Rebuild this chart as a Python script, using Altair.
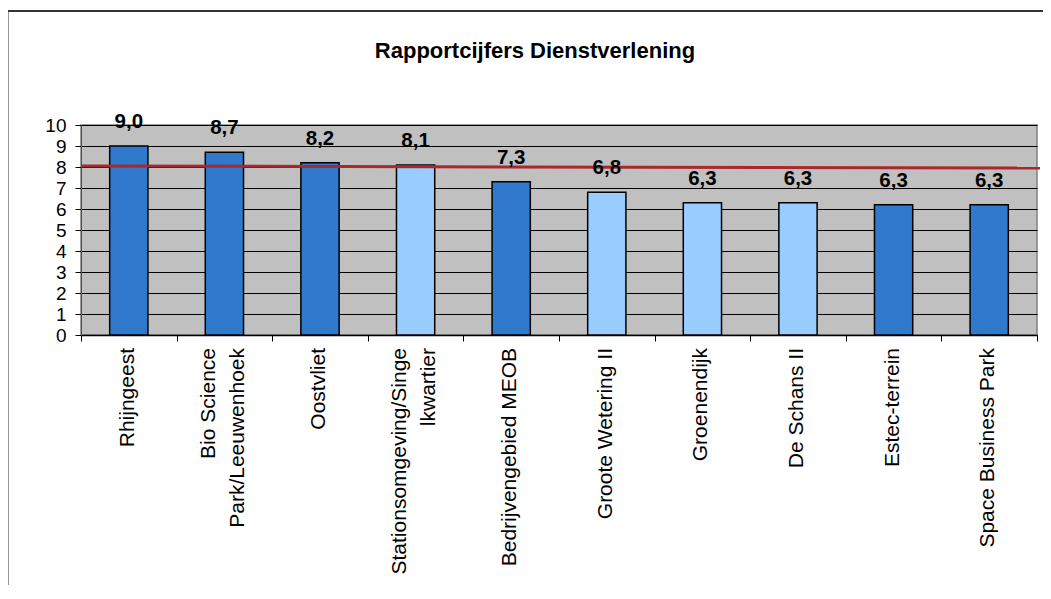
import altair as alt
import pandas as pd

# ---- data ----
categories = [
    "Rhijngeest",
    "Bio Science|Park/Leeuwenhoek",
    "Oostvliet",
    "Stationsomgeving/Singe|lkwartier",
    "Bedrijvengebied MEOB",
    "Groote Wetering II",
    "Groenendijk",
    "De Schans II",
    "Estec-terrein",
    "Space Business Park",
]
scores = [9.0, 8.7, 8.2, 8.1, 7.3, 6.8, 6.3, 6.3, 6.2, 6.2]
score_labels = ["9,0", "8,7", "8,2", "8,1", "7,3", "6,8", "6,3", "6,3", "6,3", "6,3"]
groups = ["dark", "dark", "dark", "light", "dark", "light", "light", "light", "dark", "dark"]
ref_start = [8.05]
ref_end = [7.95]
y_ticks = list(range(0, 11))
title_text = "Rapportcijfers Dienstverlening"

FONT = "Liberation Sans"
W, H = 956, 210
HALF_LH = 14.5

line1 = [c.split("|")[0] for c in categories]
line2 = [c.split("|")[1] if "|" in c else "" for c in categories]

df = pd.DataFrame({
    "cat": categories, "score": scores, "lab": score_labels, "grp": groups,
    "line1": line1, "line2": line2,
})
ref_df = pd.DataFrame({"y1": ref_start, "y2": ref_end})
title_df = pd.DataFrame({"t": [title_text]})

x_axis = alt.Axis(
    title=None,
    labels=False,
    tickBand="extent",
    tickSize=6,
    tickColor="black",
    domainColor="black",
    domainWidth=1.5,
    grid=False,
)
x_scale = alt.Scale(paddingInner=0, paddingOuter=0)

y_axis = alt.Axis(
    title=None,
    values=y_ticks,
    tickCount=12,
    grid=True,
    gridColor="black",
    gridWidth=1,
    gridOpacity=1,
    tickSize=6,
    tickColor="black",
    domainColor="#505050",
    labelFont=FONT,
    labelFontSize=19,
    labelColor="black",
    labelPadding=9,
    labelOverlap=False,
)
y_scale = alt.Scale(domain=[0, 10], nice=False)

x_enc = alt.X("cat:N", sort=categories, scale=x_scale, axis=x_axis)
y_enc = alt.Y("score:Q", scale=y_scale, axis=y_axis)

border = alt.Chart(title_df).mark_rect(
    fillOpacity=0, stroke="#333333", strokeWidth=2
).encode(
    x=alt.value(-73.5), x2=alt.value(1000), y=alt.value(-114), y2=alt.value(700)
)

bars = alt.Chart(df).mark_bar(
    width={"band": 0.4}, stroke="black", strokeWidth=1.5
).encode(
    x=x_enc,
    y=y_enc,
    color=alt.Color(
        "grp:N",
        scale=alt.Scale(domain=["dark", "light"], range=["#3179CC", "#99CCFF"]),
        legend=None,
    ),
)

labels = alt.Chart(df).mark_text(
    font=FONT, fontSize=20.5, fontWeight="bold", color="black",
    baseline="alphabetic", dy=-18,
).encode(
    x=x_enc,
    y=y_enc,
    text="lab:N",
)

ref_rule = alt.Chart(ref_df).mark_rule(color="#A8282C", strokeWidth=3).encode(
    x=alt.value(0), x2=alt.value(W + 3),
    y=alt.Y("y1:Q", scale=y_scale, axis=y_axis),
    y2="y2:Q",
)

# category labels, rotated, hanging below the x axis (one or two lines)
cat_text = dict(font=FONT, fontSize=21, color="black", angle=270,
                align="right", baseline="middle")
cat_y = alt.value(H + 13)

cat_single = alt.Chart(df).transform_filter("datum.line2 == ''").mark_text(
    dy=-1, **cat_text
).encode(x=x_enc, y=cat_y, text="line1:N")

cat_first = alt.Chart(df).transform_filter("datum.line2 != ''").mark_text(
    dy=-HALF_LH - 1, **cat_text
).encode(x=x_enc, y=cat_y, text="line1:N")

cat_second = alt.Chart(df).transform_filter("datum.line2 != ''").mark_text(
    dy=HALF_LH - 1, **cat_text
).encode(x=x_enc, y=cat_y, text="line2:N")

title = alt.Chart(title_df).mark_text(
    font=FONT, fontSize=22, fontWeight="bold", color="black",
    align="center", baseline="alphabetic",
).encode(x=alt.value(454), y=alt.value(-67), text="t:N")

chart = alt.layer(
    border, bars, ref_rule, labels, cat_single, cat_first, cat_second, title
).properties(
    width=W,
    height=H,
    autosize=alt.AutoSizeParams(type="none"),
    padding={"left": 73, "top": 117, "right": 6, "bottom": 250},
    background="white",
).configure_view(
    fill="#C0C0C0", stroke="#808080", strokeWidth=1.5
)

chart.save("out.html", embed_options={"renderer": "svg", "actions": False})
